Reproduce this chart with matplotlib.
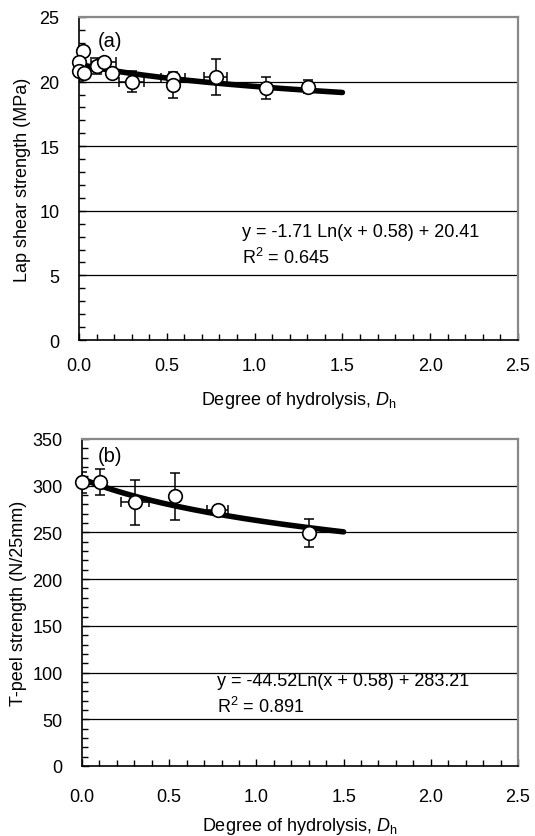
import numpy as np
import matplotlib
matplotlib.use("Agg")
import matplotlib.pyplot as plt
from matplotlib.ticker import MultipleLocator, FormatStrFormatter

plt.rcParams['font.family'] = ['Liberation Sans', 'DejaVu Sans']
plt.rcParams['mathtext.fontset'] = 'custom'
plt.rcParams['mathtext.rm'] = 'Liberation Sans'
plt.rcParams['mathtext.it'] = 'Liberation Sans:italic'
plt.rcParams['mathtext.bf'] = 'Liberation Sans:bold'

# ---- panel (a): lap shear strength ----
a_x = [0.02, 0.0, 0.0, 0.03, 0.104, 0.14, 0.19, 0.30, 0.535, 0.535, 0.778, 1.065, 1.306]
a_y = [22.4, 21.5, 20.85, 20.7, 21.2, 21.55, 20.7, 20.0, 20.28, 19.76, 20.38, 19.48, 19.6]
a_yerr = [0.3, 0.3, 0.8, 0.3, 0.6, 0.3, 0.3, 0.83, 0.3, 1.0, 1.4, 0.85, 0.5]
a_xerr = [0.0, 0.0, 0.0, 0.0, 0.0, 0.07, 0.0, 0.07, 0.07, 0.0, 0.065, 0.0, 0.0]
a_coef = [-1.71, 0.58, 20.41]
a_eq = "y = -1.71 Ln(x + 0.58) + 20.41"
a_r2 = "0.645"

# ---- panel (b): T-peel strength ----
b_x = [0.0, 0.103, 0.304, 0.533, 0.778, 1.303]
b_y = [303.7, 304.4, 282.3, 288.8, 274.1, 249.1]
b_yerr = [11, 14, 24, 25, 3, 15]
b_xerr = [0.0, 0.0, 0.08, 0.0, 0.062, 0.0]
b_coef = [-44.52, 0.58, 283.21]
b_eq = "y = -44.52Ln(x + 0.58) + 283.21"
b_r2 = "0.891"

fit_range = [0.0, 1.5]
xlabel = r"Degree of hydrolysis, $\mathit{D}_{\mathrm{h}}$"

FS = 13

fig = plt.figure(figsize=(5.35, 8.37), dpi=100)
ax1 = fig.add_axes([79/535, 1-341/837, 439/535, 323/837])
ax2 = fig.add_axes([82/535, 1-767/837, 436/535, 327/837])


def style(ax, ymax, ymajor, yminor, ylabel, ylabelpad, xpad, xlabelpad):
    ax.set_xlim(0, 2.5)
    ax.set_ylim(0, ymax)
    ax.xaxis.set_major_locator(MultipleLocator(0.5))
    ax.xaxis.set_minor_locator(MultipleLocator(0.1))
    ax.yaxis.set_major_locator(MultipleLocator(ymajor))
    ax.yaxis.set_minor_locator(MultipleLocator(yminor))
    ax.xaxis.set_major_formatter(FormatStrFormatter('%.1f'))
    ax.tick_params(which='both', direction='in', top=False, right=False,
                   labelsize=FS, width=1.0, color='black')
    ax.tick_params(which='major', length=5)
    ax.tick_params(which='minor', length=4)
    ax.tick_params(axis='x', which='major', pad=xpad)
    ax.tick_params(axis='y', which='major', pad=14)
    for v in np.arange(ymajor, ymax, ymajor):
        ax.axhline(v, color='black', lw=0.9, zorder=0.5)
    for s in ['top', 'right']:
        ax.spines[s].set_color('#888888')
        ax.spines[s].set_linewidth(1.6)
    for s in ['left', 'bottom']:
        ax.spines[s].set_color('black')
        ax.spines[s].set_linewidth(1.2)
    ax.set_xlabel(xlabel, fontsize=FS, labelpad=xlabelpad)
    ax.set_ylabel(ylabel, fontsize=FS, labelpad=ylabelpad)


def draw(ax, x, y, xerr, yerr, coef):
    xs = np.linspace(fit_range[0], fit_range[1], 200)
    ys = coef[0] * np.log(xs + coef[1]) + coef[2]
    ax.plot(xs, ys, color='black', lw=4.0, solid_capstyle='round', zorder=2)
    ax.errorbar(x, y, xerr=xerr, yerr=yerr, fmt='none', ecolor='black',
                elinewidth=1.1, capsize=3.3, capthick=1.1, zorder=3)
    ax.plot(x, y, 'o', ms=9.8, mfc='white', mec='black', mew=1.2,
            zorder=4, clip_on=False)


style(ax1, 25, 5, 1, "Lap shear strength (MPa)", 6, 12, 11)
draw(ax1, a_x, a_y, a_xerr, a_yerr, a_coef)
ax1.text(0.043, 0.927, "(a)", transform=ax1.transAxes, fontsize=FS + 1.5,
         va='center', ha='left')
ax1.text(0.371, 0.337, a_eq, transform=ax1.transAxes, fontsize=FS,
         va='center', ha='left')
ax1.text(0.371, 0.257, r"R$^2$ = " + a_r2, transform=ax1.transAxes,
         fontsize=FS, va='center', ha='left')

style(ax2, 350, 50, 10, "T-peel strength (N/25mm)", 4, 16, 7)
draw(ax2, b_x, b_y, b_xerr, b_yerr, b_coef)
ax2.text(0.037, 0.949, "(b)", transform=ax2.transAxes, fontsize=FS + 1.5,
         va='center', ha='left')
ax2.text(0.31, 0.261, b_eq, transform=ax2.transAxes, fontsize=FS,
         va='center', ha='left')
ax2.text(0.31, 0.184, r"R$^2$ = " + b_r2, transform=ax2.transAxes,
         fontsize=FS, va='center', ha='left')

fig.savefig("out.png", dpi=100, facecolor='white')
